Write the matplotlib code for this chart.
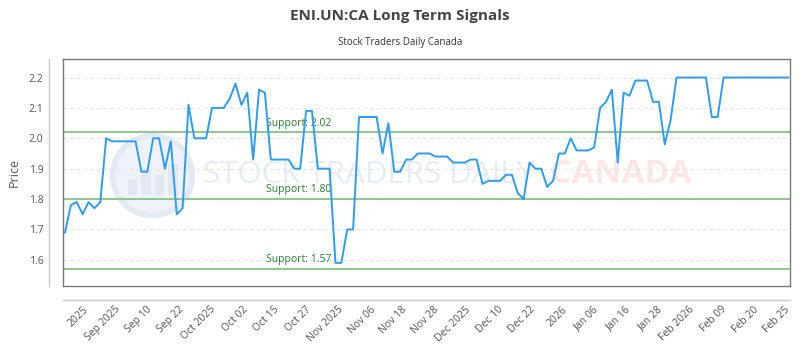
import matplotlib
matplotlib.use("Agg")
import matplotlib.pyplot as plt
import numpy as np
from matplotlib.patches import Rectangle

plt.rcParams['font.family'] = ['Open Sans', 'DejaVu Sans']

#### DATA ####
TITLE = "ENI.UN:CA Long Term Signals"
SUBTITLE = "Stock Traders Daily Canada"

prices = [
    1.69, 1.78, 1.79, 1.75, 1.79, 1.77, 1.79, 2.00, 1.99, 1.99,
    1.99, 1.99, 1.99, 1.89, 1.89, 2.00, 2.00, 1.90, 1.99, 1.75,
    1.77, 2.11, 2.00, 2.00, 2.00, 2.10, 2.10, 2.10, 2.13, 2.18,
    2.11, 2.15, 1.93, 2.16, 2.15, 1.93, 1.93, 1.93, 1.93, 1.90,
    1.90, 2.09, 2.09, 1.90, 1.90, 1.90, 1.59, 1.59, 1.70, 1.70,
    2.07, 2.07, 2.07, 2.07, 1.95, 2.05, 1.89, 1.89, 1.93, 1.93,
    1.95, 1.95, 1.95, 1.94, 1.94, 1.94, 1.92, 1.92, 1.92, 1.93,
    1.93, 1.85, 1.86, 1.86, 1.86, 1.88, 1.88, 1.82, 1.80, 1.92,
    1.90, 1.90, 1.84, 1.86, 1.95, 1.95, 2.00, 1.96, 1.96, 1.96,
    1.97, 2.10, 2.12, 2.16, 1.92, 2.15, 2.14, 2.19, 2.19, 2.19,
    2.12, 2.12, 1.98, 2.06, 2.20, 2.20, 2.20, 2.20, 2.20, 2.20,
    2.07, 2.07, 2.20, 2.20, 2.20, 2.20, 2.20, 2.20, 2.20, 2.20,
    2.20, 2.20, 2.20, 2.20,
]

support_levels = [2.02, 1.80, 1.57]

x_labels = ["2025", "Sep 2025", "Sep 10", "Sep 22", "Oct 2025", "Oct 02",
            "Oct 15", "Oct 27", "Nov 2025", "Nov 06", "Nov 18", "Nov 28",
            "Dec 2025", "Dec 10", "Dec 22", "2026", "Jan 06", "Jan 16",
            "Jan 28", "Feb 2026", "Feb 09", "Feb 20", "Feb 25"]

y_ticks = [1.6, 1.7, 1.8, 1.9, 2.0, 2.1, 2.2]

#### STYLE ####
LINE_COL = '#2f9cf0'
SUPPORT_COL = '#93c693'
SUPPORT_TXT = '#2e7a36'
BOX_COL = '#7a7a7a'
AXIS_COL = '#c8c8c8'
TICK_COL = '#555555'

fig = plt.figure(figsize=(8, 3.5), dpi=100)
ax = fig.add_axes([0.07875, 0.1829, 0.90875, 0.6486])

## frame: box plus offset axis lines (spine positions first, they reset ticks)
for s in ['top', 'right']:
    ax.spines[s].set_color(BOX_COL)
    ax.spines[s].set_linewidth(1)
for s in ['left', 'bottom']:
    ax.spines[s].set_position(('outward', 10))
    ax.spines[s].set_color(AXIS_COL)
    ax.spines[s].set_linewidth(1)
ax.plot([0, 0], [0, 1], transform=ax.transAxes, color=BOX_COL, lw=1, clip_on=False, zorder=5)
ax.plot([0, 1], [0, 0], transform=ax.transAxes, color=BOX_COL, lw=1, clip_on=False, zorder=5)

x = np.arange(len(prices))

## watermark (logo circle + faint text)
ax.scatter([14.8], [1.879], s=3300, facecolor='#eff3f9', edgecolor='#e4eaf3',
           linewidth=4, zorder=0)
for bx, bh in zip([11.5, 13.8, 16.1, 18.4], [0.05, 0.08, 0.065, 0.10]):
    ax.add_patch(Rectangle((bx - 0.8, 1.815), 1.6, bh, facecolor='#e2e8f1',
                           edgecolor='none', zorder=0))
ax.text(23.5, 1.88, "STOCK TRADERS DAILY", fontsize=22.5, color='#e7ecf4',
        va='center', ha='left', zorder=0)
ax.text(82.5, 1.88, "CANADA", fontsize=24, fontweight='bold', color='#fde6e6',
        va='center', ha='left', zorder=0)

## grid
for yv in y_ticks:
    ax.axhline(yv, color='#e2e2e2', lw=0.8, ls=(0, (3, 3)), zorder=1)

## support lines
for lvl in support_levels:
    ax.axhline(lvl, color=SUPPORT_COL, lw=1.5, zorder=2)
    ax.text(34.2, lvl + 0.012, "Support: %.2f" % lvl, color=SUPPORT_TXT,
            fontsize=7.5, va='bottom', ha='left', zorder=3)

ax.plot(x, prices, color=LINE_COL, lw=1.4, zorder=4)

ax.set_xlim(-0.34, 123.3)
ax.set_ylim(1.514, 2.261)

ax.tick_params(axis='both', length=0)
ax.tick_params(axis='x', pad=3)
ax.tick_params(axis='y', pad=4)

ax.set_yticks(y_ticks)
ax.set_yticklabels(["%.1f" % v for v in y_ticks], fontsize=7.5, color=TICK_COL)
ax.set_xticks(np.linspace(3.0, 122.4, len(x_labels)))
ax.set_xticklabels(x_labels, rotation=45, ha='right', rotation_mode='anchor',
                   fontsize=7.5, color=TICK_COL)

ax.set_ylabel("Price", fontsize=9, color=TICK_COL)
ax.yaxis.set_label_coords(-0.058, 0.5)

fig.text(0.5, 0.955, TITLE, ha='center', va='center', fontsize=11,
         fontweight='bold', color='#444444')
fig.text(0.5, 0.88, SUBTITLE, ha='center', va='center', fontsize=7, color='#333333')

fig.savefig("out.png", dpi=100)
